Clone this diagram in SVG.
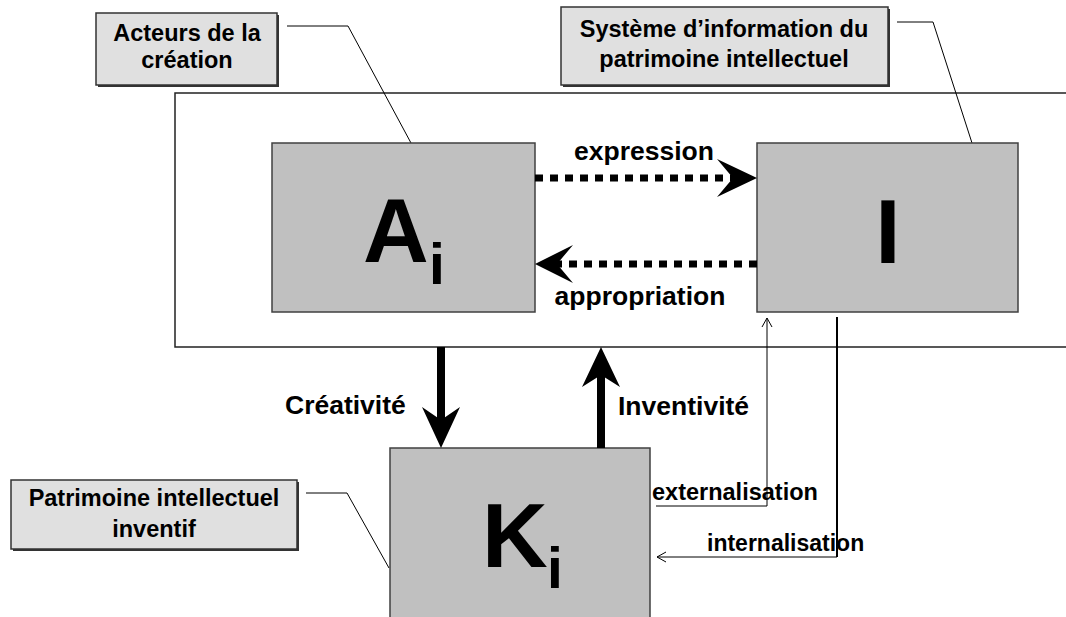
<svg xmlns="http://www.w3.org/2000/svg" width="1066" height="617" viewBox="0 0 1066 617">
<style>
text{font-family:"Liberation Sans",Arial,sans-serif;font-weight:bold;fill:#000}
.node{fill:#c0c0c0;stroke:#404040;stroke-width:1.5}
.lbl{fill:#e0e0e0;stroke:#333;stroke-width:1.5}
.shadow{fill:#333}
.thin{fill:none;stroke:#000;stroke-width:1}
.frame{fill:none;stroke:#222;stroke-width:1.5}
.dash{fill:none;stroke:#000;stroke-width:7;stroke-dasharray:8 7}
.thick{fill:none;stroke:#000;stroke-width:8}
.lab{font-size:26.5px}
.cap{font-size:23.5px}
.big{font-size:91px}
.sub{font-size:57px}
</style>
<rect width="1066" height="617" fill="#fff"/>
<g id="frame">
<path class="frame" d="M1066,93 H175 V347 H1066"/>
</g>
<g id="callouts">
<path class="thin" d="M287,26 H348 L411,143"/>
<path class="thin" d="M897,22 H933 L972,143"/>
<path class="thin" d="M306,493 H347 L389,568"/>
</g>
<g id="label-acteurs">
<rect class="shadow" x="98" y="15" width="181" height="72"/>
<rect class="lbl" x="96" y="13" width="181" height="72"/>
<text class="cap" x="187" y="41" text-anchor="middle">Acteurs de la</text>
<text class="cap" x="187" y="68" text-anchor="middle">création</text>
</g>
<g id="label-systeme">
<rect class="shadow" x="563" y="9" width="327" height="78"/>
<rect class="lbl" x="561" y="7" width="327" height="78"/>
<text class="cap" x="724" y="37" text-anchor="middle">Système d’information du</text>
<text class="cap" x="724" y="67" text-anchor="middle">patrimoine intellectuel</text>
</g>
<g id="label-patrimoine">
<rect class="shadow" x="13" y="482" width="286" height="69"/>
<rect class="lbl" x="11" y="480" width="286" height="69"/>
<text class="cap" x="154" y="506" text-anchor="middle">Patrimoine intellectuel</text>
<text class="cap" x="154" y="537" text-anchor="middle">inventif</text>
</g>
<g id="node-A">
<rect class="node" x="272" y="143" width="263" height="169"/>
<text class="big" x="363" y="262">A</text>
<text class="sub" x="429" y="284">i</text>
</g>
<g id="node-I">
<rect class="node" x="757" y="143" width="261" height="169"/>
<text class="big" x="888" y="263" text-anchor="middle">I</text>
</g>
<g id="node-K">
<rect class="node" x="390" y="448" width="260" height="175"/>
<text class="big" x="482" y="567">K</text>
<text class="sub" x="547" y="588">i</text>
</g>
<g id="connectors">
<path class="dash" d="M535,178 H735"/>
<polygon points="757,178 717,159 733,178 717,197"/>
<path class="dash" d="M757,264 H557"/>
<polygon points="535,264 573,245 557,264 573,283"/>
<path class="thick" d="M441,347 V425"/>
<polygon points="441,448 422,407 441,420 460,407"/>
<path class="thick" d="M601,448 V372"/>
<polygon points="601,347 582,387 601,375 620,387"/>
<path class="thin" d="M656,506 H767 V318"/>
<path class="thin" d="M762,327 L767,318 L772,327"/>
<path fill="none" stroke="#000" stroke-width="2" d="M837,317 V557"/>
<path class="thin" d="M837,557 H657"/>
<path class="thin" d="M666,552 L657,557 L666,562"/>
<text class="lab" x="644" y="160" text-anchor="middle">expression</text>
<text class="lab" x="640" y="305" text-anchor="middle">appropriation</text>
<text class="lab" x="285" y="414">Créativité</text>
<text class="lab" x="618" y="415">Inventivité</text>
<text x="652" y="500" font-size="23.5px">externalisation</text>
<text x="707" y="551" font-size="23px">internalisation</text>
</g>
</svg>
